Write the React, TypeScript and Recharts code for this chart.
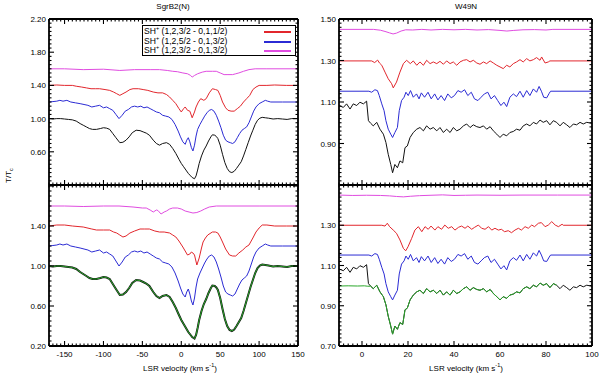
import React from "react";
import { LineChart, Line, XAxis, YAxis, Legend } from "recharts";

// ---------- SgrB2(N) ----------
const sgrVel = [
  -170, -165, -160, -155, -150, -145, -140, -135, -130, -126,
  -122, -118, -114, -109, -104, -100, -96, -92, -88, -84,
  -79, -75, -71, -67, -63, -58, -53, -49, -45, -41,
  -36, -32, -28, -24, -19, -15, -11, -7, -3, 0,
  3, 6, 9, 12, 14, 17, 19, 21, 23, 26,
  29, 32, 35, 38, 40, 43, 45, 47, 50, 53,
  56, 59, 62, 65, 68, 71, 74, 77, 80, 83,
  86, 89, 92, 95, 98, 101, 104, 108, 112, 118,
  124, 130, 136, 142, 150,
];
const sgrAbs = [
  1.0, 0.995, 1.0, 1.0, 0.995, 0.99, 0.985, 0.97, 0.94, 0.92,
  0.9, 0.88, 0.87, 0.87, 0.88, 0.89, 0.885, 0.87, 0.82, 0.77,
  0.71, 0.715, 0.74, 0.78, 0.83, 0.86, 0.855, 0.84, 0.825, 0.8,
  0.74, 0.7, 0.68, 0.7, 0.71, 0.69, 0.64, 0.58, 0.51, 0.46,
  0.42, 0.38, 0.34, 0.31, 0.29, 0.275, 0.31, 0.38, 0.46, 0.55,
  0.62, 0.67, 0.73, 0.78, 0.805, 0.8, 0.785, 0.76, 0.68, 0.57,
  0.47, 0.4, 0.36, 0.35, 0.365, 0.4, 0.44, 0.48, 0.55, 0.63,
  0.71, 0.79, 0.86, 0.93, 0.98, 1.005, 1.015, 1.01, 1.005, 0.995,
  1.0, 0.995, 0.99, 1.0, 1.0,
];

const sgrBlueVel = [
  -170, -165, -160, -156, -152, -147, -142, -136, -130, -125,
  -120, -115, -110, -105, -100, -96, -92, -88, -84, -80,
  -76, -72, -68, -64, -60, -56, -52, -48, -44, -40,
  -36, -32, -28, -24, -20, -16, -12, -8, -4, -1,
  2, 5, 7, 9, 11, 13, 15, 17, 19, 21,
  24, 27, 30, 33, 36, 39, 42, 45, 48, 51,
  54, 57, 60, 63, 66, 69, 72, 75, 78, 81,
  84, 87, 90, 93, 96, 100, 104, 108, 111, 115,
  130, 150,
];
const sgrBlue = [
  1.2, 1.205, 1.21, 1.22, 1.21, 1.22, 1.2, 1.19, 1.18, 1.17,
  1.16, 1.14, 1.15, 1.16, 1.13, 1.14, 1.12, 1.1, 1.05, 1.0,
  1.04, 1.09, 1.11, 1.14, 1.15, 1.14, 1.15, 1.13, 1.14, 1.12,
  1.1, 1.08, 1.07, 1.04, 1.03, 1.02, 0.99, 0.93, 0.85, 0.78,
  0.72, 0.69, 0.74, 0.77, 0.72, 0.65, 0.61, 0.68, 0.79, 0.87,
  0.93, 0.98, 1.03, 1.07, 1.1, 1.11, 1.09, 1.04, 0.97, 0.89,
  0.8, 0.74, 0.72, 0.71, 0.7, 0.72, 0.77, 0.82, 0.86, 0.88,
  0.9, 0.95, 1.02, 1.09, 1.14, 1.18, 1.2, 1.22, 1.21, 1.2,
  1.2, 1.2,
];

const sgrRedTopVel = [
  -170, -160, -150, -140, -135, -128, -122, -116, -110, -105,
  -98, -92, -87, -83, -79, -75, -71, -66, -62, -55,
  -49, -43, -36, -30, -24, -19, -15, -11, -7, -3,
  0, 3, 5, 8, 11, 14, 17, 19, 22, 25,
  29, 32, 36, 40, 44, 47, 50, 53, 57, 60,
  64, 68, 72, 76, 80, 84, 88, 92, 96, 100,
  110, 120, 135, 150,
];
const sgrRedTop = [
  1.4, 1.405, 1.4, 1.4, 1.39, 1.38, 1.37, 1.36, 1.36, 1.36,
  1.35, 1.34, 1.32, 1.3, 1.28, 1.3, 1.32, 1.35, 1.36, 1.36,
  1.35, 1.34, 1.32, 1.31, 1.31, 1.29, 1.26, 1.22, 1.18, 1.12,
  1.08, 1.12, 1.14, 1.1, 1.09, 1.01, 1.08, 1.14, 1.2, 1.24,
  1.22, 1.24, 1.31, 1.36, 1.35, 1.34, 1.28, 1.2, 1.13, 1.1,
  1.09, 1.09, 1.12, 1.15, 1.2, 1.24, 1.28, 1.35, 1.38, 1.4,
  1.4, 1.405, 1.4, 1.4,
];

const sgrRedBotVel = [
  -170, -160, -150, -140, -126, -115, -109, -100, -92, -87,
  -83, -79, -75, -71, -66, -60, -53, -47, -41, -34,
  -28, -22, -15, -11, -7, -3, 2, 5, 8, 11,
  13, 15, 17, 20, 23, 26, 28, 31, 34, 40,
  44, 47, 50, 53, 57, 62, 66, 70, 74, 79,
  83, 87, 92, 96, 100, 104, 110, 120, 135, 150,
];
const sgrRedBot = [
  1.4, 1.41, 1.41, 1.4, 1.39, 1.37, 1.36, 1.36, 1.36, 1.34,
  1.33, 1.31, 1.29, 1.3, 1.33, 1.35, 1.37, 1.37, 1.37, 1.35,
  1.34, 1.34, 1.33, 1.31, 1.29, 1.25, 1.19, 1.15, 1.11, 1.12,
  1.14, 1.13, 1.11, 1.01, 1.08, 1.18, 1.24, 1.28, 1.31, 1.34,
  1.34, 1.33, 1.29, 1.24, 1.17, 1.11, 1.1, 1.1, 1.13, 1.16,
  1.19, 1.21, 1.28, 1.34, 1.38, 1.41, 1.41, 1.4, 1.4, 1.4,
];

const sgrMagTopVel = [
  -170, -150, -126, -100, -79, -60, -40, -28, -18, -11,
  -5, 2, 8, 12, 14, 17, 21, 27, 32, 40,
  45, 50, 55, 60, 66, 70, 74, 80, 87, 95,
  110, 150,
];
const sgrMagTop = [
  1.6, 1.6, 1.59, 1.595, 1.58, 1.59, 1.59, 1.59, 1.58, 1.57,
  1.565, 1.55, 1.54, 1.52, 1.5, 1.52, 1.54, 1.56, 1.57, 1.57,
  1.57, 1.55, 1.53, 1.53, 1.53, 1.54, 1.55, 1.57, 1.59, 1.6,
  1.6, 1.6,
];

const sgrMagBotVel = [
  -170, -150, -126, -100, -80, -62, -50, -45, -40, -36,
  -32, -30, -26, -22, -19, -15, -11, -5, 0, 5,
  10, 15, 20, 25, 30, 36, 45, 60, 100, 150,
];
const sgrMagBot = [
  1.6, 1.6, 1.595, 1.6, 1.6, 1.59, 1.58, 1.58, 1.56, 1.54,
  1.56, 1.555, 1.52, 1.54, 1.55, 1.57, 1.58, 1.58, 1.57, 1.55,
  1.54, 1.53, 1.535, 1.55, 1.57, 1.59, 1.6, 1.6, 1.6, 1.6,
];

// ---------- W49N ----------
const w49Vel = [
  -10, -8.1, -6.7, -5.2, -3.8, -2.3, -0.9, 0.6, 2.0, 2.8,
  3.8, 4.9, 6.4, 7.8, 9.3, 10.4, 11.4, 12.5, 13.3, 14.3,
  15.4, 16.5, 17.7, 18.7, 19.7, 20.9, 22.3, 23.8, 25.2, 26.7,
  28.1, 29.6, 31.0, 32.5, 33.9, 35.4, 36.8, 38.3, 39.7, 41.2,
  42.6, 44.1, 45.5, 47.0, 48.4, 49.9, 51.3, 52.8, 54.2, 55.7,
  57.1, 58.6, 60.0, 61.4, 62.9, 64.3, 65.8, 67.2, 68.7, 70.1,
  71.6, 73.0, 74.5, 75.9, 77.4, 78.8, 80.3, 81.7, 83.2, 84.6,
  86.1, 87.5, 89.0, 90.4, 91.9, 93.3, 94.8, 96.2, 97.7, 100,
];
const w49Abs = [
  1.083, 1.074, 1.091, 1.066, 1.091, 1.083, 1.099, 1.091, 1.104, 1.01,
  0.997, 0.985, 1.002, 0.969, 0.945, 0.905, 0.848, 0.799, 0.759, 0.799,
  0.783, 0.816, 0.807, 0.88, 0.888, 0.929, 0.953, 0.969, 0.977, 0.961,
  0.985, 0.969, 0.977, 0.961, 0.977, 0.953, 0.969, 0.953, 0.977, 0.961,
  0.969, 0.985, 0.994, 0.977, 0.99, 0.981, 0.977, 0.985, 0.969, 0.981,
  0.961, 0.945, 0.929, 0.945, 0.937, 0.953, 0.958, 0.969, 0.964, 0.985,
  0.994, 0.985, 1.002, 0.994, 1.013, 1.002, 1.01, 0.99, 1.01, 1.002,
  0.985, 1.002, 0.99, 0.977, 0.994, 0.99, 1.002, 0.994, 1.002, 0.997,
];
const w49GreenHeadVel = [-10, -6, -2, 1, 2.5];
const w49GreenHead = [0.998, 0.999, 0.998, 0.999, 0.997];

const w49BlueVel = [
  -10, 3, 4.2, 5.6, 6.7, 7.5, 8.6, 9.6, 10.4, 11.4,
  12.5, 13.3, 14.3, 15.4, 16.2, 17.2, 18.3, 19.1, 20.1, 21.1,
  22.3, 23.7, 24.8, 25.8, 27.2, 28.7, 30.1, 31.6, 33.0, 34.4,
  35.9, 37.3, 38.8, 40.2, 41.7, 43.1, 44.6, 46.0, 47.5, 48.9,
  50.4, 51.8, 53.2, 54.7, 56.1, 57.6, 59.0, 60.4, 61.7, 62.9,
  64.3, 65.8, 67.2, 68.7, 70.1, 71.6, 73.0, 74.5, 75.9, 77.0,
  78.0, 79.0, 80.3, 81.4, 82.0, 100,
];
const w49Blue = [
  1.152, 1.152, 1.147, 1.159, 1.155, 1.131, 1.091, 1.058, 1.01, 0.969,
  0.945, 0.929, 0.953, 0.977, 1.058, 1.107, 1.123, 1.147, 1.131, 1.155,
  1.123, 1.139, 1.115, 1.144, 1.123, 1.147, 1.115, 1.139, 1.11, 1.131,
  1.107, 1.139, 1.12, 1.131, 1.155, 1.147, 1.159, 1.131, 1.147, 1.115,
  1.107, 1.123, 1.139, 1.147, 1.115, 1.131, 1.107, 1.083, 1.099, 1.078,
  1.123, 1.139, 1.126, 1.152, 1.123, 1.155, 1.131, 1.163, 1.147, 1.175,
  1.152, 1.123, 1.12, 1.142, 1.152, 1.152,
];

const w49RedTopVel = [
  -10, 4.2, 5.5, 6.8, 7.6, 8.6, 10.0, 11.4, 12.9, 13.6,
  15.0, 16.5, 18.0, 19.4, 21.0, 22.3, 23.8, 25.2, 26.7, 28.1,
  29.6, 31.0, 32.5, 33.9, 35.4, 36.8, 38.3, 39.7, 41.2, 42.6,
  44.1, 45.5, 47.0, 48.4, 49.9, 51.3, 52.8, 54.2, 55.7, 57.1,
  58.6, 60.0, 61.4, 62.9, 64.3, 65.8, 67.2, 68.7, 70.1, 71.6,
  73.0, 74.5, 75.9, 77.4, 78.1, 79.6, 81.0, 81.7, 100,
];
const w49RedTop = [
  1.298, 1.298, 1.29, 1.302, 1.288, 1.277, 1.244, 1.212, 1.188, 1.168,
  1.196, 1.244, 1.285, 1.301, 1.285, 1.298, 1.277, 1.293, 1.277, 1.301,
  1.285, 1.293, 1.285, 1.296, 1.282, 1.298, 1.285, 1.293, 1.277, 1.293,
  1.301, 1.304, 1.293, 1.301, 1.288, 1.282, 1.293, 1.285, 1.298, 1.288,
  1.277, 1.269, 1.261, 1.277, 1.269, 1.285, 1.293, 1.304, 1.293, 1.309,
  1.298, 1.304, 1.314, 1.301, 1.317, 1.288, 1.293, 1.298, 1.298,
];

const w49RedBotVel = [
  -10, 8.6, 10.0, 11.0, 12.0, 13.6, 15.0, 16.5, 18.0, 19.0,
  20.0, 21.6, 23.0, 24.5, 26.0, 27.4, 28.8, 30.0, 31.7, 33.0,
  34.6, 36.0, 37.5, 39.0, 40.4, 42.0, 43.3, 44.8, 46.0, 47.7,
  49.0, 50.6, 52.0, 53.5, 55.0, 56.4, 57.8, 59.3, 60.6, 62.0,
  63.6, 65.0, 66.5, 68.0, 69.3, 70.9, 72.3, 73.8, 75.0, 76.7,
  78.0, 79.6, 81.0, 82.5, 84.0, 85.4, 87.0, 87.5, 100,
];
const w49RedBot = [
  1.3, 1.3, 1.296, 1.31, 1.293, 1.276, 1.26, 1.227, 1.185, 1.173,
  1.193, 1.235, 1.276, 1.293, 1.268, 1.293, 1.28, 1.296, 1.276, 1.293,
  1.28, 1.301, 1.285, 1.293, 1.276, 1.29, 1.296, 1.285, 1.296, 1.28,
  1.29, 1.301, 1.285, 1.28, 1.293, 1.276, 1.285, 1.276, 1.28, 1.268,
  1.273, 1.263, 1.276, 1.285, 1.276, 1.293, 1.285, 1.301, 1.293, 1.31,
  1.313, 1.293, 1.301, 1.318, 1.301, 1.293, 1.305, 1.3, 1.3,
];

const w49MagTopVel = [-10, 5, 8, 10, 12, 13.5, 15, 17, 19, 22, 26, 30, 35, 40, 45, 50, 55, 60, 63, 66, 70, 75, 80, 83, 100];
const w49MagTop = [1.45, 1.45, 1.446, 1.44, 1.433, 1.428, 1.432, 1.442, 1.448, 1.447, 1.45, 1.447, 1.45, 1.448, 1.45, 1.447, 1.449, 1.445, 1.442, 1.445, 1.448, 1.449, 1.447, 1.45, 1.45];
const w49MagBotVel = [-10, -4, 2, 8, 12, 15, 18, 21, 25, 30, 35, 40, 45, 50, 60, 70, 85, 100];
const w49MagBot = [1.45, 1.448, 1.449, 1.448, 1.446, 1.443, 1.441, 1.444, 1.447, 1.449, 1.451, 1.448, 1.449, 1.45, 1.449, 1.45, 1.45, 1.45];

// ---------- ticks / labels ----------
const sgrXMajor = [-150, -100, -50, 0, 50, 100, 150];
const w49XMajor = [0, 20, 40, 60, 80, 100];
const sgrYTopMajor = [0.2, 0.6, 1.0, 1.4, 1.8, 2.2];
const sgrYTopLabels = [0.6, 1.0, 1.4, 1.8, 2.2];
const sgrYBotMajor = [0.2, 0.6, 1.0, 1.4, 1.8];
const sgrYBotLabels = [0.2, 0.6, 1.0, 1.4];
const w49YMajor = [0.7, 0.9, 1.1, 1.3, 1.5];
const w49YTopLabels = [0.9, 1.1, 1.3, 1.5];
const w49YBotLabels = [0.7, 0.9, 1.1, 1.3];
const legendLabels = ["(1,2,3/2 - 0,1,1/2)", "(1,2,5/2 - 0,1,3/2)", "(1,2,3/2 - 0,1,3/2)"];

const RED = "#e2262c";
const BLUE = "#2b2bd4";
const MAG = "#e04ce0";
const BLACK = "#111";
const GREEN = "#2aa82a";
const FONT = "'Liberation Sans', Arial, sans-serif";

const zip = (v: number[], t: number[]) => v.map((x, i) => ({ v: x, t: t[i] }));
const steps = (a: number, b: number, s: number) => {
  const out: number[] = [];
  for (let i = 0; a + i * s <= b + 1e-9; i++) out.push(Math.round((a + i * s) * 1000) / 1000);
  return out;
};
const has = (arr: number[], v: number) => arr.some((m) => Math.abs(m - v) < 1e-6);

const w49Rows = zip(w49Vel, w49Abs);
const w49GreenRows = [
  ...zip(w49GreenHeadVel, w49GreenHead),
  ...w49Rows.filter((r) => r.v > 3 && r.v < 85),
];

function tickFor(side: string, majors: number[], labels: number[], fmt: (v: number) => string) {
  return (p: any) => {
    const { x, y, payload } = p;
    const val = payload.value;
    const len = has(majors, val) ? 5 : 2.5;
    const lbl = has(labels, val);
    let l: any;
    let t: any = null;
    if (side === "bottom") {
      l = <line x1={x} y1={y} x2={x} y2={y - len} />;
      if (lbl) t = <text x={x} y={y + 11} textAnchor="middle">{fmt(val)}</text>;
    } else if (side === "top") {
      l = <line x1={x} y1={y} x2={x} y2={y + len} />;
    } else if (side === "left") {
      l = <line x1={x} y1={y} x2={x + len} y2={y} />;
      if (lbl) t = <text x={x - 3} y={y + 3} textAnchor="end">{fmt(val)}</text>;
    } else {
      l = <line x1={x} y1={y} x2={x - len} y2={y} />;
    }
    return (
      <g stroke="#000" strokeWidth={1.1}>
        {l}
        {t && React.cloneElement(t, { stroke: "none", fill: "#000", fontSize: 8, fontFamily: FONT })}
      </g>
    );
  };
}

function LegendBox() {
  const colors = [RED, BLUE, MAG];
  const widths = [1.5, 2, 2];
  return (
    <div style={{
      width: 152, height: 29, border: "1.5px solid #000", background: "#fff",
      fontFamily: FONT, fontSize: 8.6, lineHeight: "10px", position: "relative",
    }}>
      {legendLabels.map((s, i) => (
        <div key={s} style={{ position: "absolute", left: 1, top: i * 9.7, whiteSpace: "nowrap" }}>
          SH<sup style={{ fontSize: 5.5, verticalAlign: "4px", lineHeight: 0 }}>+</sup> {s}
        </div>
      ))}
      {colors.map((c, i) => (
        <div key={c} style={{
          position: "absolute", left: 121, width: 27, top: 5 + i * 9.7, height: widths[i],
          background: c,
        }} />
      ))}
    </div>
  );
}

type Series = { rows: { v: number; t: number }[]; color: string; width?: number };

function Panel(props: {
  box: [number, number, number, number];
  xDomain: [number, number]; xMajor: number[]; xMinor: number; xLabels: number[];
  yDomain: [number, number]; yMajor: number[]; yMinor: number; yLabels: number[];
  series: Series[]; legend?: boolean;
}) {
  const [L, T, R, B] = props.box;
  const xTicks = steps(props.xDomain[0], props.xDomain[1], props.xMinor);
  const yTicks = steps(props.yMajor[0], props.yMajor[props.yMajor.length - 1], props.yMinor);
  const xf = (v: number) => String(v);
  const yf = (v: number) => v.toFixed(2);
  const axisLine = { stroke: "#000", strokeWidth: 1.8 };
  return (
    <div style={{ position: "absolute", left: 0, top: 0 }}>
      <LineChart width={600} height={375} margin={{ top: T - 1, left: L - 1, right: 600 - R - 1, bottom: 375 - B - 1 }}>
        <XAxis xAxisId="b" dataKey="v" type="number" domain={props.xDomain} ticks={xTicks} interval={0}
          height={1} tickSize={0} tickMargin={0} tickLine={false} axisLine={axisLine}
          tick={tickFor("bottom", props.xMajor, props.xLabels, xf)} allowDataOverflow />
        <XAxis xAxisId="t" orientation="top" dataKey="v" type="number" domain={props.xDomain} ticks={xTicks}
          interval={0} height={1} tickSize={0} tickMargin={0} tickLine={false} axisLine={axisLine}
          tick={tickFor("top", props.xMajor, [], xf)} allowDataOverflow />
        <YAxis yAxisId="l" type="number" domain={props.yDomain} ticks={yTicks} interval={0} width={1}
          tickSize={0} tickMargin={0} tickLine={false} axisLine={axisLine}
          tick={tickFor("left", props.yMajor, props.yLabels, yf)} allowDataOverflow />
        <YAxis yAxisId="r" orientation="right" type="number" domain={props.yDomain} ticks={yTicks} interval={0}
          width={1} tickSize={0} tickMargin={0} tickLine={false} axisLine={axisLine}
          tick={tickFor("right", props.yMajor, [], yf)} allowDataOverflow />
        {props.series.map((s, i) => (
          <Line key={i} xAxisId="b" yAxisId="l" data={s.rows} dataKey="t" type="linear" stroke={s.color}
            strokeWidth={s.width ?? 1} dot={false} activeDot={false} isAnimationActive={false} />
        ))}
        {props.legend && (
          <Legend verticalAlign="middle" layout="horizontal" content={() => <LegendBox />}
            wrapperStyle={{ position: "absolute", left: 142, top: 25, width: 156, height: 32 }} />
        )}
      </LineChart>
    </div>
  );
}

const label: React.CSSProperties = { position: "absolute", fontFamily: FONT, fontSize: 8, color: "#000", whiteSpace: "nowrap" };

export default function App() {
  const sgrBlack = zip(sgrVel, sgrAbs);
  const sgrBlueRows = zip(sgrBlueVel, sgrBlue);
  const w49BlueRows = zip(w49BlueVel, w49Blue);
  return (
    <div style={{ position: "absolute", left: 0, top: 0, width: 600, height: 375, background: "#fff", overflow: "hidden" }}>
      <Panel box={[49, 19, 298, 185]} xDomain={[-170, 150]} xMajor={sgrXMajor} xMinor={5} xLabels={[]}
        yDomain={[0.2, 2.2]} yMajor={sgrYTopMajor} yMinor={0.05} yLabels={sgrYTopLabels} legend
        series={[
          { rows: sgrBlack, color: BLACK },
          { rows: sgrBlueRows, color: BLUE },
          { rows: zip(sgrRedTopVel, sgrRedTop), color: RED },
          { rows: zip(sgrMagTopVel, sgrMagTop), color: MAG },
        ]} />
      <Panel box={[49, 185, 298, 346]} xDomain={[-170, 150]} xMajor={sgrXMajor} xMinor={5} xLabels={sgrXMajor}
        yDomain={[0.2, 1.81]} yMajor={sgrYBotMajor} yMinor={0.05} yLabels={sgrYBotLabels}
        series={[
          { rows: zip(sgrMagBotVel, sgrMagBot), color: MAG },
          { rows: zip(sgrRedBotVel, sgrRedBot), color: RED },
          { rows: sgrBlueRows, color: BLUE },
          { rows: sgrBlack, color: BLACK, width: 2 },
          { rows: sgrBlack, color: GREEN, width: 1 },
        ]} />
      <Panel box={[339, 19, 592, 185]} xDomain={[-10, 100]} xMajor={w49XMajor} xMinor={2} xLabels={[]}
        yDomain={[0.7, 1.5]} yMajor={w49YMajor} yMinor={0.02} yLabels={w49YTopLabels}
        series={[
          { rows: zip(w49MagTopVel, w49MagTop), color: MAG },
          { rows: zip(w49RedTopVel, w49RedTop), color: RED },
          { rows: w49BlueRows, color: BLUE },
          { rows: w49Rows, color: BLACK },
        ]} />
      <Panel box={[339, 185, 592, 346]} xDomain={[-10, 100]} xMajor={w49XMajor} xMinor={2} xLabels={w49XMajor}
        yDomain={[0.7, 1.5]} yMajor={w49YMajor} yMinor={0.02} yLabels={w49YBotLabels}
        series={[
          { rows: zip(w49MagBotVel, w49MagBot), color: MAG },
          { rows: zip(w49RedBotVel, w49RedBot), color: RED },
          { rows: w49BlueRows, color: BLUE },
          { rows: w49Rows, color: BLACK },
          { rows: w49GreenRows, color: GREEN },
        ]} />
      <div style={{ ...label, left: 150, top: 2, width: 46, textAlign: "center" }}>SgrB2(N)</div>
      <div style={{ ...label, left: 446, top: 2, width: 40, textAlign: "center" }}>W49N</div>
      <div style={{ ...label, left: 130, top: 364, width: 100, textAlign: "center" }}>
        LSR velocity (km s<sup style={{ fontSize: 5.5, verticalAlign: "4px", lineHeight: 0 }}>-1</sup>)
      </div>
      <div style={{ ...label, left: 416, top: 364, width: 100, textAlign: "center" }}>
        LSR velocity (km s<sup style={{ fontSize: 5.5, verticalAlign: "4px", lineHeight: 0 }}>-1</sup>)
      </div>
      <div style={{ ...label, left: -12, top: 171, width: 40, textAlign: "center", transform: "rotate(-90deg)" }}>
        T/T<sub style={{ fontSize: 5.5, verticalAlign: "-2px", lineHeight: 0 }}>c</sub>
      </div>
    </div>
  );
}
